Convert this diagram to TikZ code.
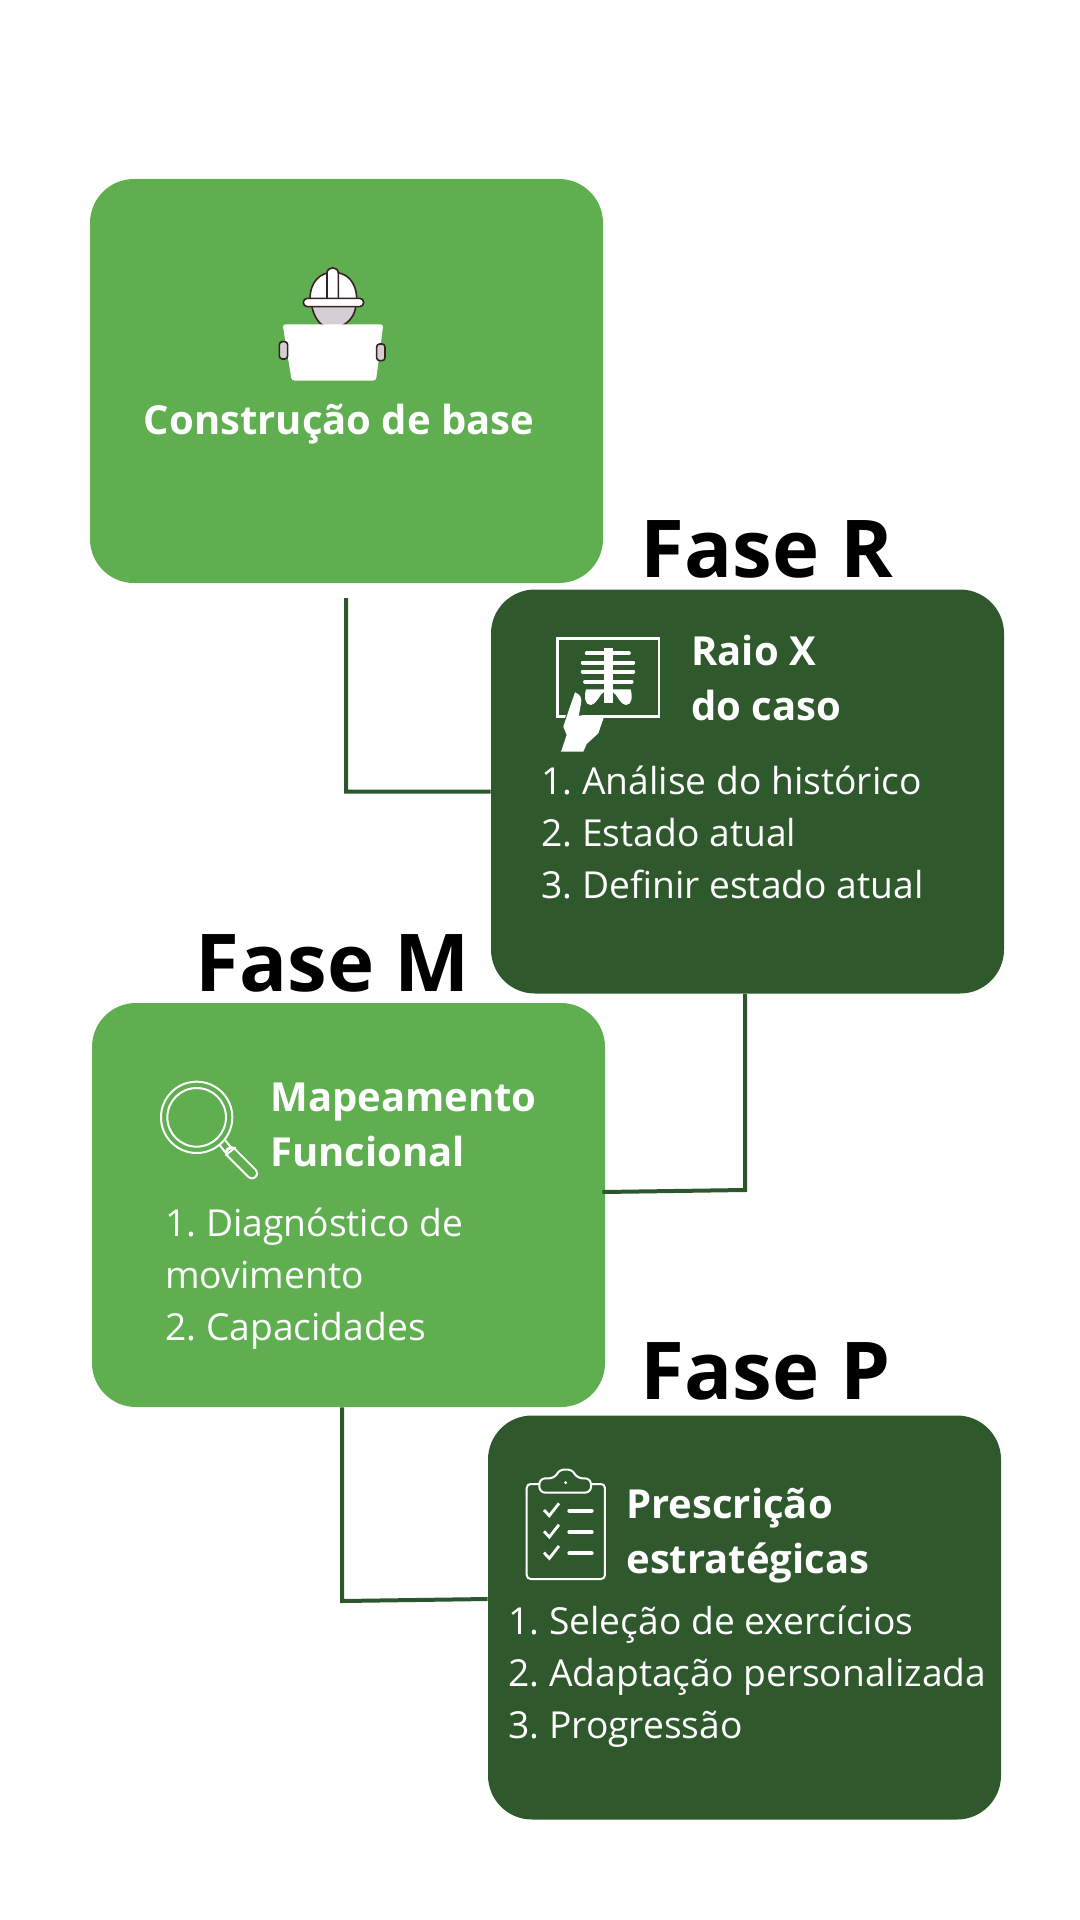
\documentclass[tikz,border=0pt]{standalone}
\usepackage{fontspec}
\setmainfont{Open Sans}
\usetikzlibrary{calc}
\definecolor{boxlight}{RGB}{95,174,80}
\definecolor{boxdark}{RGB}{47,89,45}
\definecolor{wireline}{RGB}{44,86,44}
\definecolor{hatline}{RGB}{58,32,36}
\definecolor{headgrey}{RGB}{211,207,210}

\begin{document}
\begin{tikzpicture}[x=0.5pt, y=-0.5pt,
    phasebox/.style={rectangle, rounded corners=22pt, minimum width=256.5pt, minimum height=202pt, inner sep=0pt},
    phasename/.style={anchor=base west, inner sep=0pt, font=\fontsize{39.9}{48}\selectfont\bfseries},
    boxtitle/.style={anchor=base west, inner sep=0pt, align=left, text=white, font=\fontsize{20}{27.5}\selectfont\bfseries},
    boxlist/.style={anchor=base west, inner sep=0pt, align=left, text=white, font=\fontsize{18.6}{26}\selectfont\frenchspacing},
    wire/.style={draw=wireline, line width=2pt},
    icon/.style={draw=white, line width=1pt}]
    \useasboundingbox (0,0) rectangle (1080,1920);

    % Caixas
    \node[phasebox, fill=boxlight] (base) at (346.5,381) {};
    \node[phasebox, fill=boxdark] (raiox) at (747.5,791.5) {};
    \node[phasebox, fill=boxlight] (mapa) at (348.5,1205) {};
    \node[phasebox, fill=boxdark] (presc) at (744.5,1617.5) {};

    % Linhas entre as caixas
    \coordinate (start) at (346,598);
    \coordinate (kneeA) at (346,791.7);
    \coordinate (kneeB) at (745,1190);
    \coordinate (kneeC) at (342,1601);
    \coordinate (mapaIn) at ($(mapa.east)+(-3,-13)$);
    \coordinate (prescIn) at ($(presc.west)+(0,-18.5)$);
    \draw[wire] (start) -- (kneeA) -- (raiox.west);
    \draw[wire] (raiox.south -| kneeB) -- (kneeB) -- (mapaIn);
    \draw[wire] (mapa.south -| kneeC) -- (kneeC) -- (prescIn);

    % Titulos das fases
    \node[phasename] (faseR) at (640.5,577) {Fase R};
    \node[phasename] (faseM) at (195,991) {Fase M};
    \node[phasename] (faseP) at (640.5,1399.5) {Fase P};

    % Textos
    \node[boxtitle] (baseT) at (143.5,434.7) {Construção de base};
    \node[boxtitle] (raioxT) at (691,720) {Raio X\\do caso};
    \node[boxlist] (raioxL) at (541,898) {1. Análise do histórico\\2. Estado atual\\3. Definir estado atual};
    \node[boxtitle] (mapaT) at (270,1166) {Mapeamento\\Funcional};
    \node[boxlist] (mapaL) at (165,1340) {1. Diagnóstico de\\movimento\\2. Capacidades};
    \node[boxtitle] (prescT) at (626,1573.5) {Prescrição\\estratégicas};
    \node[boxlist] (prescL) at (508,1738.5) {1. Seleção de exercícios\\2. Adaptação personalizada\\3. Progressão};

    % Operario
    \begin{scope}[shift={(250,240)}, scale=0.3333]
        \draw[hatline, line width=0.8pt, fill=headgrey] (185,195) .. controls (190,230) and (210,255) .. (225,258) -- (275,258) .. controls (300,245) and (315,225) .. (318,195) -- cycle;
        \draw[hatline, line width=0.8pt, fill=white] (180,178) .. controls (180,125) and (210,97) .. (250,97) .. controls (290,97) and (320,125) .. (320,178) -- cycle;
        \draw[hatline, line width=0.8pt, fill=white] (231,178) -- (231,100) .. controls (231,78) and (265,78) .. (265,100) -- (265,178) -- cycle;
        \draw[hatline, line width=0.8pt, fill=white, rounded corners=2pt] (160,175) rectangle (341,200);
        \fill[white, rounded corners=1.5pt] (98,253) -- (400,253) -- (378,422) -- (125,422) -- cycle;
        \draw[hatline, line width=0.8pt, fill=headgrey, rounded corners=1.5pt] (88,305) rectangle (113,357);
        \draw[hatline, line width=0.8pt, fill=headgrey, rounded corners=1.5pt] (380,312) rectangle (405,362);
    \end{scope}

    % Raio X
    \begin{scope}[shift={(530,620)}, scale=0.3333]
        \draw[icon, line width=1.3pt] (82,55) rectangle (387,290);
        \fill[white] (222,85) rectangle (248,250);
        \foreach \ribY/\ribL/\ribR in {100/170/297, 128/158/310, 155/158/310, 185/165/305} {
            \draw[white, line width=1.9pt, line cap=round] (\ribL,\ribY) -- (\ribR,\ribY);
        }
        \fill[white] (168,208) -- (222,208) -- (222,216) .. controls (208,222) and (204,250) .. (182,255) .. controls (164,255) and (162,230) .. (168,208) -- cycle;
        \fill[white] (302,208) -- (248,208) -- (248,216) .. controls (262,222) and (266,250) .. (288,255) .. controls (306,255) and (308,230) .. (302,208) -- cycle;
        \fill[boxdark] (105,295) -- (130,215) -- (160,225) -- (160,285) -- cycle;
        \fill[white] (135,217) .. controls (150,222) and (157,235) .. (153,250) -- (146,290) -- (222,290) -- (205,340) -- (170,372) -- (160,395) -- (93,395) -- (110,345) -- (100,320) -- (120,260) -- cycle;
    \end{scope}

    % Lupa
    \begin{scope}[shift={(141,1060)}, scale=0.3333]
        \draw[icon] (167,172) circle (107);
        \draw[icon] (167,172) circle (88);
        \draw[icon] (236,255) -- (253,277);
        \draw[icon] (252,240) -- (270,262);
        \draw[white, line width=6pt, line cap=round] (270,277) -- (333,340);
        \draw[boxlight, line width=4pt, line cap=round] (272,279) -- (333,340);
        \draw[icon] (253,286) -- (284,262);
    \end{scope}

    % Prancheta
    \begin{scope}[shift={(510,1450)}, scale=0.3333]
        \draw[icon, rounded corners=2pt] (50,102) rectangle (285,387);
        \draw[icon, fill=boxdark, rounded corners=3pt] (88,128) -- (88,85) -- (135,85) .. controls (150,55) and (185,55) .. (200,85) -- (243,85) -- (243,128) -- cycle;
        \fill[white] (167,98) circle (5);
        \foreach \rowY in {182, 246, 310} {
            \draw[white, line width=1.4pt] (102,\rowY-2) -- (118,\rowY+15) -- (147,\rowY-22);
            \draw[white, line width=2pt, line cap=round] (178,\rowY) -- (245,\rowY);
        }
    \end{scope}
\end{tikzpicture}
\end{document}
